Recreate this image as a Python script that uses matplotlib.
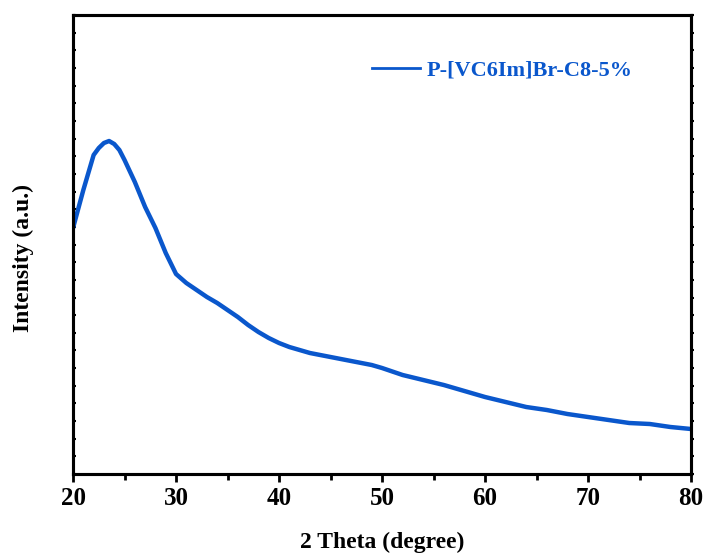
import matplotlib
matplotlib.use("Agg")
import matplotlib.pyplot as plt
from matplotlib.ticker import MultipleLocator, NullFormatter

# 2 theta (degree) and intensity (a.u.)
two_theta = [20, 21, 22, 22.5, 23, 23.5, 24, 24.5, 25, 26, 27, 28, 29, 30,
             31, 32, 33, 34, 35, 36, 37, 38, 39, 40, 41, 42, 43, 44, 45,
             46, 47, 48, 49, 50, 52, 54, 56, 58, 60, 62, 64, 66, 68, 70,
             72, 74, 76, 78, 80]
intensity = [246, 284, 319, 326, 331, 333, 330, 324, 314, 292, 267, 246, 221, 200,
             191, 184, 177, 171, 164, 157, 149, 142, 136, 131, 127, 124, 121, 119, 117,
             115, 113, 111, 109, 106, 99, 94, 89, 83, 77, 72, 67, 64, 60, 57,
             54, 51, 50, 47, 45]
label = "P-[VC6Im]Br-C8-5%"

plt.rcParams['font.family'] = ['Liberation Serif', 'DejaVu Serif']
plt.rcParams['font.weight'] = 'bold'

fig = plt.figure(figsize=(7.07, 5.54), dpi=100)
ax = fig.add_axes([0.1033, 0.1444, 0.8741, 0.8285])

ax.plot(two_theta, intensity, color='#0a57cc', lw=3.2, label=label)

ax.set_xlim(20, 80)
ax.set_ylim(0, 459)
ax.xaxis.set_major_locator(MultipleLocator(10))
ax.xaxis.set_minor_locator(MultipleLocator(5))
ax.yaxis.set_major_locator(MultipleLocator(17.65))
ax.yaxis.set_major_formatter(NullFormatter())

ax.tick_params(axis='x', which='both', direction='out', width=2, labelsize=18, pad=3)
ax.tick_params(axis='x', which='major', length=6)
ax.tick_params(axis='x', which='minor', length=4)
ax.tick_params(axis='y', which='major', direction='in', length=2.5, width=1.5,
               labelleft=False)
for lab in ax.get_xticklabels():
    lab.set_fontweight('bold')

# right side ticks point outward
ax2 = ax.twinx()
ax2.set_ylim(ax.get_ylim())
ax2.yaxis.set_major_locator(MultipleLocator(17.65))
ax2.yaxis.set_major_formatter(NullFormatter())
ax2.tick_params(axis='y', direction='out', length=2.5, width=1.5)

for a in (ax, ax2):
    for sp in a.spines.values():
        sp.set_linewidth(2.2)

ax.set_xlabel("2 Theta (degree)", fontsize=17, fontweight='bold', labelpad=16)
ax.set_ylabel("Intensity (a.u.)", fontsize=17, fontweight='bold')
ax.yaxis.set_label_coords(-0.063, 0.47)

leg = ax.legend(loc='upper left', bbox_to_anchor=(0.484, 0.902), frameon=False,
                borderpad=0, borderaxespad=0, handlelength=2.15, handletextpad=0.3,
                prop={'size': 16, 'weight': 'bold'}, labelcolor='linecolor')
for h in leg.get_lines():
    h.set_linewidth(2)

fig.savefig("out.png", dpi=100)
